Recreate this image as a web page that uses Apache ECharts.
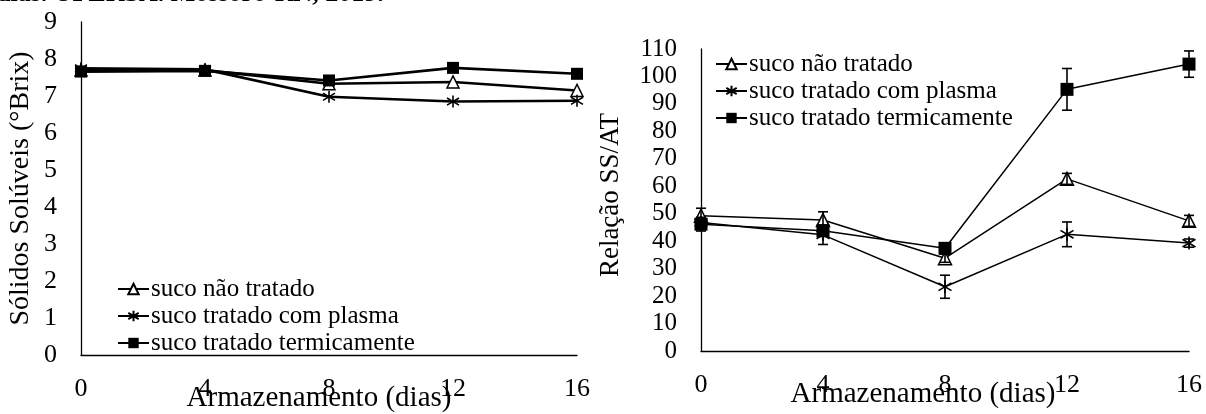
<!DOCTYPE html>
<html>
<head>
<meta charset="utf-8">
<script src="https://cdn.jsdelivr.net/npm/echarts@6/dist/echarts.min.js"></script>
<style>
html,body{margin:0;padding:0;background:#fff;}
#c{width:1206px;height:414px;}
</style>
</head>
<body>
<div id="c"></div>
<script>
// ---- data ----
const days = [0, 4, 8, 12, 16];
const seriesNames = ['suco não tratado', 'suco tratado com plasma', 'suco tratado termicamente'];

// Sólidos Solúveis (°Brix)
const ssNaoTratado = [7.70, 7.70, 7.33, 7.38, 7.15];
const ssPlasma     = [7.75, 7.72, 6.98, 6.85, 6.87];
const ssTermico    = [7.66, 7.68, 7.42, 7.76, 7.60];

// Relação SS/AT
const ratioNaoTratado = [49.3, 47.7, 33.8, 62.7, 47.4];
const ratioPlasma     = [46.8, 42.3, 23.4, 42.5, 39.3];
const ratioTermico    = [46.2, 43.8, 37.4, 95.3, 104.5];
const errNaoTratado   = [2.7, 3.0, 1.5, 2.0, 2.0];
const errPlasma       = [1.5, 3.5, 4.2, 4.5, 1.5];
const errTermico      = [2.5, 2.0, 1.5, 7.6, 4.8];

const yTicksLeft = [0, 1, 2, 3, 4, 5, 6, 7, 8, 9];
const yTicksRight = [0, 10, 20, 30, 40, 50, 60, 70, 80, 90, 100, 110];

const caption = 'dias. UFERSA. Mossoró-RN, 2019.';

// ---- chart ----
const FONT = "'Liberation Serif', 'Times New Roman', serif";
const starPath = 'path://M0,-1L0,1M-0.75,-0.6L0.75,0.6M-0.75,0.6L0.75,-0.6';

function pairs(vals) { return days.map((d, i) => [d, vals[i]]); }
function triples(vals, errs) { return days.map((d, i) => [d, vals[i], errs[i]]); }

function lineSeries(name, vals, idx, kind, lw, size) {
  const s = {
    name: name, type: 'line', xAxisIndex: idx, yAxisIndex: idx,
    data: pairs(vals), symbolSize: size,
    lineStyle: { color: '#000', width: lw },
    emphasis: { disabled: true }, animation: false
  };
  if (kind === 'tri') {
    s.symbol = 'triangle';
    s.itemStyle = { color: '#fff', borderColor: '#000', borderWidth: 1.5 };
  } else if (kind === 'star') {
    s.symbol = starPath;
    s.itemStyle = { color: '#000', borderColor: '#000', borderWidth: 1.6 };
  } else {
    s.symbol = 'rect';
    s.itemStyle = { color: '#000', borderColor: '#000', borderWidth: 0 };
  }
  return s;
}

function errSeries(vals, errs) {
  return {
    type: 'custom', xAxisIndex: 1, yAxisIndex: 1, z: 5, silent: true, animation: false,
    data: triples(vals, errs),
    renderItem: function (params, api) {
      const x = api.value(0), y = api.value(1), e = api.value(2);
      const t = api.coord([x, y + e]);
      const b = api.coord([x, y - e]);
      const w = 5;
      const st = { stroke: '#000', lineWidth: 1.6 };
      return {
        type: 'group',
        children: [
          { type: 'line', shape: { x1: t[0], y1: t[1], x2: b[0], y2: b[1] }, style: st },
          { type: 'line', shape: { x1: t[0] - w, y1: t[1], x2: t[0] + w, y2: t[1] }, style: st },
          { type: 'line', shape: { x1: b[0] - w, y1: b[1], x2: b[0] + w, y2: b[1] }, style: st }
        ]
      };
    }
  };
}

function xAxis(gridIndex, padRight) {
  return {
    type: 'value', gridIndex: gridIndex, min: 0, max: 16, interval: 4,
    name: 'Armazenamento (dias)', nameLocation: 'middle', nameGap: 29, nameMoveOverlap: false,
    nameTextStyle: { fontFamily: FONT, fontSize: 29, color: '#000', padding: [0, padRight, 0, 0] },
    axisLine: { show: true, lineStyle: { color: '#000', width: 1.3 } },
    axisTick: { show: false },
    axisLabel: { fontFamily: FONT, fontSize: 26, color: '#000', margin: 21,
                 showMinLabel: true, showMaxLabel: true, hideOverlap: false },
    splitLine: { show: false }
  };
}

function yAxis(gridIndex, max, interval, name, gap, fs, nfs, padLeft) {
  return {
    type: 'value', gridIndex: gridIndex, min: 0, max: max, interval: interval,
    name: name, nameLocation: 'middle', nameGap: gap, nameMoveOverlap: false,
    nameTextStyle: { fontFamily: FONT, fontSize: nfs, color: '#000', padding: [0, 0, 0, padLeft] },
    axisLine: { show: true, lineStyle: { color: '#000', width: 1.3 } },
    axisTick: { show: false },
    axisLabel: { fontFamily: FONT, fontSize: fs, color: '#000', margin: 24,
                 showMinLabel: true, showMaxLabel: true, hideOverlap: false },
    splitLine: { show: false }
  };
}

const legendCommon = {
  orient: 'vertical', itemWidth: 31, itemHeight: 13, itemGap: 1,
  selectedMode: false,
  textStyle: { fontFamily: FONT, fontSize: 25, color: '#000', lineHeight: 26, padding: [0, 0, 0, -3] },
  data: seriesNames
};

const option = {
  backgroundColor: '#fff',
  animation: false,
  grid: [
    { left: 81, top: 22, width: 496, height: 333, outerBoundsMode: 'none', containLabel: false },
    { left: 701, top: 49, width: 488, height: 302, outerBoundsMode: 'none', containLabel: false }
  ],
  xAxis: [xAxis(0, 20), xAxis(1, 44)],
  yAxis: [
    yAxis(0, 9, 1, 'Sólidos Solúveis (°Brix)', 46, 26, 28, 0),
    yAxis(1, 110, 10, 'Relação SS/AT', 77, 25, 27, 10)
  ],
  legend: [
    Object.assign({ left: 112, top: 271 }, legendCommon),
    Object.assign({ left: 710, top: 46 }, legendCommon)
  ],
  graphic: [
    { type: 'text', left: -4, top: -19, silent: true,
      style: { text: caption, font: "bold 26px 'Liberation Serif'", fill: '#000' } }
  ],
  series: [
    lineSeries(seriesNames[0], ssNaoTratado, 0, 'tri', 2.6, 12),
    lineSeries(seriesNames[1], ssPlasma, 0, 'star', 2.6, 12),
    lineSeries(seriesNames[2], ssTermico, 0, 'rect', 2.6, 12),
    lineSeries(seriesNames[0], ratioNaoTratado, 1, 'tri', 1.5, 13),
    lineSeries(seriesNames[1], ratioPlasma, 1, 'star', 1.5, 13),
    lineSeries(seriesNames[2], ratioTermico, 1, 'rect', 1.5, 13),
    errSeries(ratioNaoTratado, errNaoTratado),
    errSeries(ratioPlasma, errPlasma),
    errSeries(ratioTermico, errTermico)
  ]
};

const chart = echarts.init(document.getElementById('c'), null, { renderer: 'canvas' });
chart.setOption(option);
</script>
</body>
</html>
